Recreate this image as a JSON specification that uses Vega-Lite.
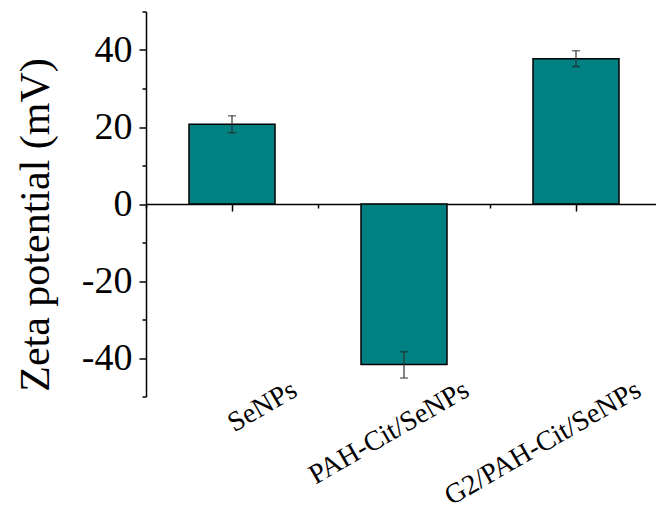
{
  "$schema": "https://vega.github.io/schema/vega-lite/v6.json",
  "autosize": "none",
  "padding": {"left": 146, "top": 11.5, "right": 0, "bottom": 113.5},
  "width": 510,
  "height": 385,
  "background": "white",
  "config": {"view": {"stroke": null}, "axis": {"labelFont": "Liberation Serif", "titleFont": "Liberation Serif", "labelColor": "black", "titleColor": "black", "domainColor": "black", "tickColor": "black", "grid": false}},
  "data": {"values": [
    {"sample": "SeNPs", "zeta": 20.7, "lo": 18.5, "hi": 22.9},
    {"sample": "PAH-Cit/SeNPs", "zeta": -41.7, "lo": -45.2, "hi": -38.4},
    {"sample": "G2/PAH-Cit/SeNPs", "zeta": 37.7, "lo": 35.7, "hi": 39.8}
  ]},
  "resolve": {"axis": {"x": "independent", "y": "independent"}},
  "layer": [
    {
      "mark": {"type": "bar", "color": "#008080", "stroke": "black", "strokeWidth": 1.5, "width": {"band": 0.5}},
      "encoding": {
        "x": {"field": "sample", "type": "nominal", "sort": null,
          "scale": {"paddingInner": 0, "paddingOuter": 0, "range": [0, 516]},
          "axis": {"orient": "bottom", "title": null, "domain": false, "ticks": false, "labelAngle": -30, "labelAlign": "right", "labelBaseline": "top", "labelPadding": -21, "labelOffset": 56, "labelFontSize": 28, "labelBound": false, "labelOverlap": false, "labelLimit": 0}},
        "y": {"field": "zeta", "type": "quantitative",
          "scale": {"domain": [-50, 50], "nice": false, "zero": false},
          "axis": {"orient": "left", "title": "Zeta potential (mV)", "titleFontSize": 42, "titleFontWeight": "normal", "titleX": -89, "titleY": 213,
            "values": [-40, -20, 0, 20, 40],
            "labelExpr": "'' + datum.value",
            "labelOverlap": false, "labelBound": false,
            "labelFontSize": 38, "labelPadding": 7, "domain": true, "domainWidth": 1.5, "ticks": true, "tickWidth": 1.5, "tickSize": 7}}
      }
    },
    {
      "mark": {"type": "rule", "color": "#333333", "strokeWidth": 1.2},
      "encoding": {
        "x": {"field": "sample", "type": "nominal", "sort": null,
          "axis": {"orient": "bottom", "offset": -192.5, "title": null, "labels": false, "domain": true, "domainWidth": 1.5, "ticks": true, "tickSize": 7, "tickWidth": 1.5, "tickBand": "center"}},
        "y": {"field": "lo", "type": "quantitative",
          "axis": {"orient": "left", "title": null, "labels": false, "domain": false, "ticks": true, "tickSize": 4, "tickWidth": 1.5, "values": [-50, -30, -10, 10, 30, 50]}},
        "y2": {"field": "hi"}
      }
    },
    {
      "mark": {"type": "tick", "color": "#222222", "size": 8, "thickness": 1.3},
      "encoding": {
        "x": {"field": "sample", "type": "nominal", "sort": null,
          "axis": {"orient": "bottom", "offset": -192.5, "title": null, "labels": false, "domain": false, "ticks": true, "tickSize": 4, "tickWidth": 1.5, "tickBand": "extent"}},
        "y": {"field": "lo", "type": "quantitative", "axis": null}
      }
    },
    {
      "mark": {"type": "tick", "color": "#222222", "size": 8, "thickness": 1.3},
      "encoding": {
        "x": {"field": "sample", "type": "nominal", "sort": null, "axis": null},
        "y": {"field": "hi", "type": "quantitative", "axis": null}
      }
    }
  ]
}
